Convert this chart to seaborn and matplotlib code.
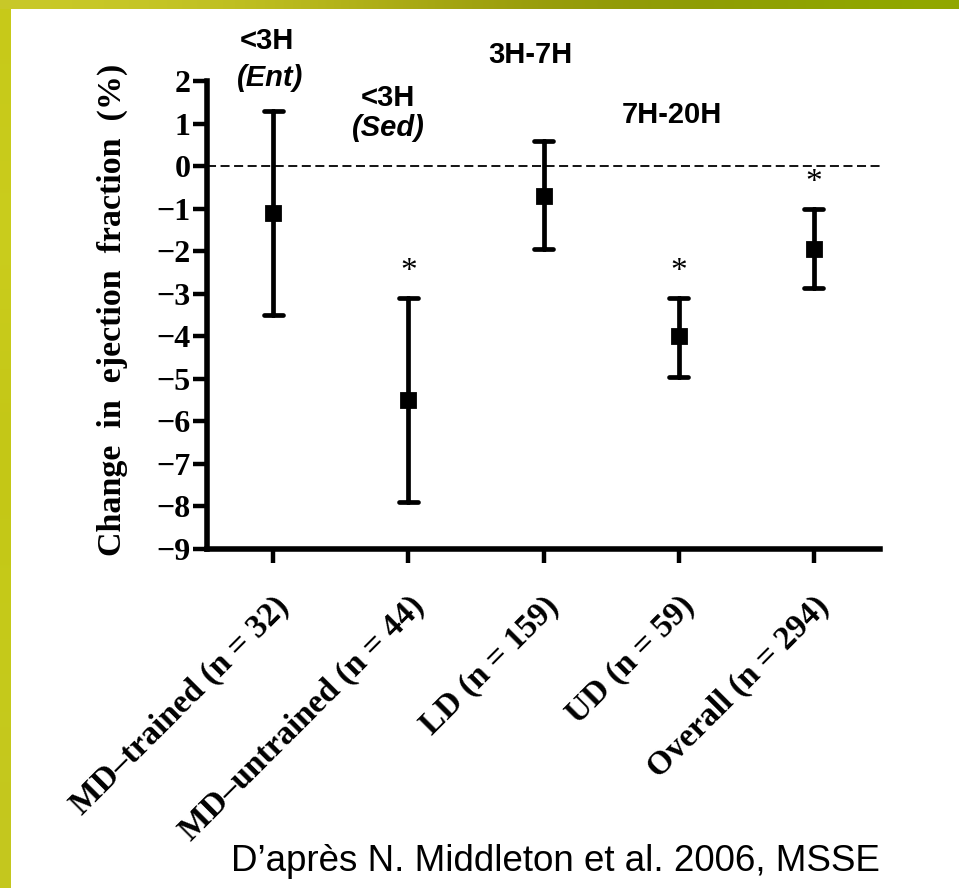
import matplotlib
matplotlib.use("Agg")
from matplotlib import pyplot as plt
import numpy as np
import pandas as pd
import seaborn as sns

# values (mean and 95% CI)
groups = ["MD\u2013trained (n = 32)", "MD\u2013untrained (n = 44)", "LD (n = 159)",
          "UD (n = 59)", "Overall (n = 294)"]
means = [-1.1, -5.5, -0.7, -4.0, -1.95]
lows = [-3.5, -7.9, -1.95, -4.95, -2.87]
highs = [1.3, -3.1, 0.6, -3.1, -1.02]
significant = [False, True, False, True, True]

yticks = list(range(-9, 3))

# duration groups written above the points
dur_labels = ["<3H", "(Ent)", "<3H", "(Sed)", "3H-7H", "7H-20H"]
dur_italic = [False, True, False, True, False, False]
dur_x = [-0.05, -0.02, 0.85, 0.85, 1.9, 2.95]
dur_y = [2.95, 2.08, 1.6, 0.9, 2.6, 1.2]

credit = "D\u2019apr\u00e8s N. Middleton et al. 2006, MSSE"

# long form: lo / mean / hi per group -> median gives mean, min/max give the CI
df = pd.DataFrame({
    "group": np.repeat(groups, 3),
    "value": np.ravel(np.column_stack([lows, means, highs])),
})

sns.set_theme(style="ticks")
plt.rcParams["font.family"] = ["Liberation Serif", "DejaVu Serif"]
for key in ["text.color", "axes.edgecolor", "axes.labelcolor",
            "xtick.color", "ytick.color"]:
    plt.rcParams[key] = "black"

fig = plt.figure(figsize=(9.59, 8.88), dpi=100)
fig.patch.set_facecolor("white")

# olive/yellow slide border (left + top)
left_band = fig.add_axes([0, 0, 11 / 959, 1])
grad_v = np.array([[0.78, 0.79, 0.10], [0.80, 0.81, 0.12], [0.76, 0.77, 0.08],
                   [0.78, 0.80, 0.10], [0.77, 0.78, 0.12]])
left_band.imshow(grad_v[:, None, :], aspect="auto", interpolation="bicubic")
left_band.axis("off")
top_band = fig.add_axes([0, 1 - 9 / 888, 1, 9 / 888])
grad_h = np.array([[0.79, 0.79, 0.16], [0.74, 0.74, 0.12], [0.62, 0.62, 0.06],
                   [0.55, 0.60, 0.02], [0.57, 0.66, 0.0]])
top_band.imshow(grad_h[None, :, :], aspect="auto", interpolation="bicubic")
top_band.axis("off")

ax = fig.add_axes([207 / 959, 1 - 549 / 888, 673 / 959, 468 / 888])

sns.pointplot(data=df, x="group", y="value", estimator="median",
              errorbar=lambda v: (v.min(), v.max()),
              linestyle="none", marker="s", markersize=10.5, color="black",
              capsize=0.14, err_kws={"linewidth": 3.4}, ax=ax)

ax.axhline(0, color="black", linewidth=1.3, linestyle=(0, (5, 2.5)), zorder=0)

ax.set_xlim(-0.49, 4.49)
ax.set_ylim(-9, 2)
ax.set_yticks(yticks)
ax.set_yticklabels([str(t).replace("-", "\u2212") for t in yticks])

sns.despine(ax=ax)
for side in ["left", "bottom"]:
    ax.spines[side].set_linewidth(4)
ax.tick_params(axis="y", length=10, width=3.2, pad=2, labelsize=23)
ax.tick_params(axis="x", length=10, width=3.2, pad=20, labelsize=24)
for lab in ax.get_yticklabels():
    lab.set_fontweight("bold")
for lab in ax.get_xticklabels():
    lab.set_fontweight("bold")
    lab.set_rotation(45)
    lab.set_ha("right")
    lab.set_rotation_mode("anchor")

ax.set_xlabel("")
ax.set_ylabel("Change  in  ejection  fraction  (%)", fontsize=24.5,
              fontweight="bold")
ax.yaxis.set_label_coords(-0.118, 0.51)

for i, (sig, hi) in enumerate(zip(significant, highs)):
    if sig:
        ax.text(i, hi + 0.62, "*", ha="center", va="center", fontsize=24)

for txt, it, x, y in zip(dur_labels, dur_italic, dur_x, dur_y):
    ax.text(x, y, txt, ha="center", va="center", fontsize=21,
            fontweight="bold", style="italic" if it else "normal",
            family="Liberation Sans", clip_on=False)

fig.text(555 / 959, 1 - 861 / 888, credit, ha="center", va="center",
         fontsize=26.5, family="Liberation Sans")

fig.savefig("out.png", dpi=100)
